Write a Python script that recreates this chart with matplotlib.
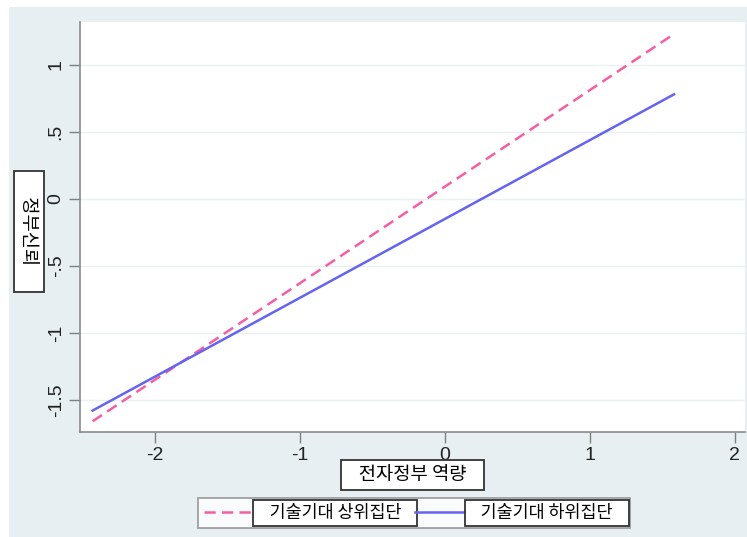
import matplotlib.pyplot as plt
from matplotlib.patches import Rectangle

plt.rcParams['font.family'] = ['Noto Sans CJK KR', 'DejaVu Sans']

# endpoints of the two fitted lines (x = 전자정부 역량, y = 정부신뢰)
xVals = [-2.43, 1.58]
highGroup = [-1.66, 1.23]   # 기술기대 상위집단
lowGroup = [-1.58, 0.78]    # 기술기대 하위집단

xTicks = [-2, -1, 0, 1, 2]
xTickLabels = ['-2', '-1', '0', '1', '2']
yTicks = [-1.5, -1, -0.5, 0, 0.5, 1]
yTickLabels = ['-1.5', '-1', '-.5', '0', '.5', '1']

bgColor = '#e7eff2'
pink = '#f45fa3'
blue = '#6464f0'
latin = ['Liberation Sans', 'DejaVu Sans']

fig = plt.figure(figsize=(7.47, 5.37), dpi=100)
fig.patch.set_facecolor('white')
fig.patches.append(Rectangle((9/747, 0), 1 - 9/747, 1 - 7/537, transform=fig.transFigure,
                             facecolor=bgColor, edgecolor='none', zorder=-10))

ax = fig.add_axes([80/747, 1 - 432/537, 665/747, 410/537])
ax.set_facecolor('white')

ax.plot(xVals, highGroup, color=pink, linestyle=(0, (4.5, 2.5)), linewidth=1.8, label='   기술기대 상위집단   ')
ax.plot(xVals, lowGroup, color=blue, linestyle='-', linewidth=1.8, label='   기술기대 하위집단   ')

ax.set_xlim(-2.517, 2.07)
ax.set_ylim(-1.74, 1.32)
ax.set_xticks(xTicks)
ax.set_xticklabels(xTickLabels, fontsize=14, family=latin, color='#222222')
ax.set_yticks(yTicks)
ax.set_yticklabels(yTickLabels, fontsize=14, rotation=90, va='center', family=latin, color='#222222')
ax.tick_params(axis='both', direction='out', length=8, width=1, color='#808080', pad=3)
ax.grid(axis='y', color='#e9f1f3', linewidth=1)
ax.set_axisbelow(True)

for side in ['top', 'right']:
    ax.spines[side].set_visible(False)
for side in ['left', 'bottom']:
    ax.spines[side].set_color('#8a8a8a')
    ax.spines[side].set_linewidth(1.2)

boxStyle = dict(boxstyle='square,pad=0.25', facecolor='white', edgecolor='#333333', linewidth=1.3)
ax.set_xlabel('   전자정부 역량   ', fontsize=13.5, bbox=boxStyle, labelpad=0)
ax.set_ylabel('     정부신뢰     ', fontsize=13.5, bbox=boxStyle, rotation=270, va='center', ha='center')
ax.yaxis.set_label_coords(-0.077, 0.49)

leg = fig.legend(loc='center', bbox_to_anchor=(414/747, 1 - 513/537), ncol=2, fontsize=12.5,
                 handlelength=3.0, handletextpad=0.1, columnspacing=0.15, frameon=True,
                 fancybox=False, edgecolor='#8a8a8a', borderpad=0.35, borderaxespad=0)
leg.get_frame().set_linewidth(1.3)
for t in leg.get_texts():
    t.set_bbox(dict(boxstyle='square,pad=0.25', facecolor='white', edgecolor='#333333', linewidth=1.3))

fig.savefig('out.png', dpi=100)
